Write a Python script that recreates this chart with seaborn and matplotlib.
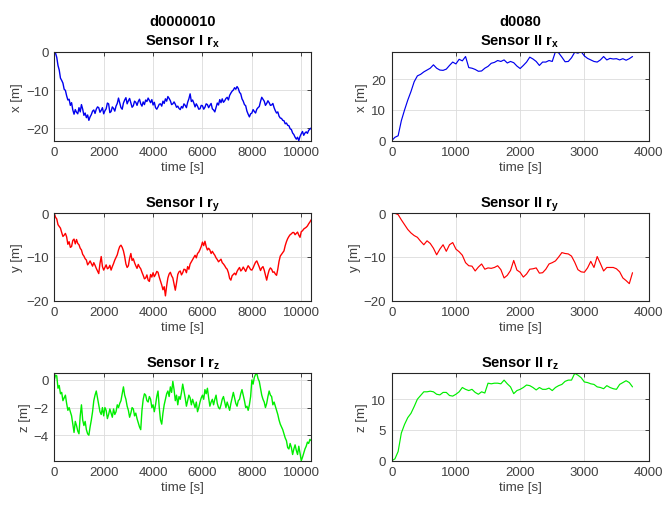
import numpy as np
import pandas as pd
import matplotlib
matplotlib.use("Agg")
import matplotlib.pyplot as plt
import seaborn as sns

# ---------------- data ----------------
title_I = "d0000010"
title_II = "d0080"

t_I = np.arange(0, 10450, 50)       # time [s], sensor I (0..10400)
t_II = np.arange(0, 3800, 50)       # time [s], sensor II (0..3750)

x_I = [0, -0.4, -1.5, -3.6, -4.8, -6.9, -7.5, -8.2, -9.8, -10.1,
       -11.5, -12.6, -12.4, -14.0, -13.3, -15.2, -16.3, -15.1, -15.8, -16.2,
       -14.6, -15.7, -13.8, -15.0, -16.6, -16.0, -17.2, -16.5, -17.9, -17.0,
       -16.4, -15.5, -15.2, -16.1, -15.0, -14.4, -14.6, -15.8, -15.3, -14.6,
       -16.2, -15.4, -14.9, -13.4, -13.6, -15.9, -15.6, -14.4, -14.8, -15.5,
       -14.2, -13.5, -12.1, -13.4, -14.6, -15.0, -13.4, -12.6, -12.0, -13.6,
       -12.8, -12.2, -13.3, -14.5, -14.1, -12.9, -13.2, -14.0, -13.0, -12.4,
       -13.6, -14.2, -13.1, -13.8, -12.6, -13.0, -12.1, -12.7, -13.3, -12.5,
       -13.9, -13.2, -14.6, -15.0, -14.4, -13.7, -13.6, -14.2, -12.9, -13.5,
       -12.3, -12.9, -11.7, -12.2, -12.8, -13.8, -13.6, -13.1, -13.7, -14.5,
       -14.2, -14.8, -15.1, -14.3, -14.7, -13.6, -14.0, -14.6, -13.2, -12.3,
       -11.0, -13.0, -12.6, -13.4, -14.4, -13.6, -14.2, -15.0, -14.9, -14.0,
       -14.1, -15.0, -14.5, -13.6, -13.8, -14.6, -14.0, -13.5, -14.9, -15.2,
       -15.7, -14.6, -13.4, -13.9, -12.5, -13.3, -12.3, -13.2, -12.8, -12.2,
       -11.9, -12.6, -11.4, -10.8, -10.3, -10.0, -9.4, -9.8, -9.1, -9.6,
       -10.6, -11.0, -12.3, -12.9, -13.8, -14.1, -15.5, -16.3, -17.0, -16.2,
       -16.0, -15.1, -15.6, -16.0, -15.0, -14.6, -14.3, -13.0, -11.9, -12.4,
       -12.9, -14.0, -13.5, -12.8, -13.3, -14.0, -13.9, -13.5, -14.6, -15.4,
       -16.0, -15.7, -16.8, -17.3, -17.4, -17.9, -18.0, -18.8, -18.6, -19.2,
       -19.3, -20.1, -20.3, -21.2, -21.6, -22.3, -22.8, -22.3, -23.2, -22.1,
       -21.4, -20.8, -21.8, -21.2, -20.9, -21.3, -20.5, -20.2, -19.9]

y_I = [0, -0.9, -1.3, -2.6, -3.0, -3.4, -4.4, -5.3, -5.0, -4.6,
       -5.4, -7.1, -6.5, -7.8, -7.6, -6.2, -5.9, -7.0, -6.0, -6.9,
       -7.2, -8.0, -8.4, -9.4, -9.8, -10.4, -10.7, -11.8, -11.4, -10.9,
       -11.5, -12.1, -11.3, -11.9, -12.6, -13.2, -13.8, -11.5, -9.9, -12.2,
       -13.0, -12.4, -11.8, -12.7, -12.5, -11.9, -13.0, -12.2, -11.5, -10.7,
       -10.1, -9.5, -8.4, -7.6, -7.3, -7.8, -8.6, -9.9, -11.6, -12.4,
       -12.0, -10.3, -9.2, -10.8, -10.4, -11.3, -12.0, -12.6, -11.7, -12.3,
       -12.7, -13.5, -14.2, -15.0, -14.8, -14.1, -15.3, -15.6, -14.0, -14.6,
       -13.6, -14.5, -14.0, -13.3, -13.5, -14.6, -15.5, -16.4, -17.5, -16.8,
       -18.9, -16.6, -14.8, -13.9, -13.5, -14.3, -14.8, -16.2, -17.6, -15.9,
       -14.0, -13.4, -13.2, -14.1, -13.6, -12.8, -12.9, -13.6, -12.2, -12.8,
       -11.6, -11.1, -10.6, -10.1, -9.6, -10.2, -9.2, -8.9, -8.3, -7.6,
       -6.6, -7.4, -6.4, -7.6, -8.4, -8.0, -8.4, -9.2, -8.7, -9.2,
       -9.6, -10.2, -10.6, -11.1, -10.8, -10.5, -11.3, -11.6, -12.0, -12.5,
       -12.8, -13.6, -14.9, -15.3, -14.3, -14.0, -13.7, -14.1, -13.3, -12.8,
       -12.4, -13.2, -12.9, -12.3, -12.8, -13.3, -12.6, -12.0, -12.4, -12.9,
       -13.0, -12.5, -11.8, -11.2, -10.9, -11.6, -12.3, -13.1, -12.5, -12.2,
       -13.0, -14.1, -15.3, -14.0, -13.0, -12.5, -12.8, -13.5, -13.4, -13.9,
       -14.2, -12.8, -11.0, -9.8, -9.4, -9.0, -8.6, -7.4, -6.5, -5.8,
       -5.3, -4.9, -4.7, -4.4, -4.4, -4.9, -4.6, -4.3, -5.0, -5.5,
       -4.2, -4.0, -3.6, -3.4, -3.2, -2.9, -2.4, -2.0, -1.5]

z_I = [0.0, 0.35, 0.3, -0.6, -0.4, -1.0, -0.9, -1.5, -1.3, -1.1,
       -1.7, -2.2, -2.0, -2.3, -2.6, -3.2, -3.8, -3.0, -3.3, -3.7,
       -3.9, -2.6, -1.8, -2.9, -3.3, -3.0, -3.6, -3.9, -4.0, -3.4,
       -2.9, -2.3, -1.5, -1.1, -0.8, -1.3, -1.8, -2.3, -2.5, -2.0,
       -2.6, -2.0, -2.2, -2.8, -2.5, -2.1, -2.4, -2.7, -2.1, -2.5,
       -2.3, -1.8, -2.0, -1.7, -1.5, -1.0, -0.5, -1.1, -1.4, -1.9,
       -2.2, -2.7, -2.4, -2.0, -2.1, -2.6, -2.4, -2.8, -3.1, -3.4,
       -3.6, -2.2, -1.4, -1.0, -1.1, -1.5, -1.6, -1.2, -1.4, -2.0,
       -1.8, -2.3, -1.8, -1.2, -0.8, -2.0, -2.9, -3.2, -2.4, -1.8,
       -1.4, -1.0, -0.8, -1.2, -0.5, -0.9, -0.1, -0.7, -1.5, -1.1,
       -1.8, -1.2, -1.4, -0.9, -0.3, -0.8, -1.3, -1.9, -1.5, -1.1,
       -1.3, -1.8, -1.4, -1.7, -2.0, -1.6, -2.3, -2.0, -1.6, -1.3,
       -1.1, -1.4, -0.7, -1.0, -0.6, -1.3, -1.9, -1.6, -1.4, -1.8,
       -1.4, -1.1, -1.7, -2.0, -2.1, -1.8, -1.4, -1.2, -1.6, -2.0,
       -1.6, -1.9, -2.2, -1.7, -1.3, -0.9, -1.3, -1.7, -1.9, -1.5,
       -1.4, -1.0, -0.7, -1.1, -1.5, -2.0, -1.9, -2.2, -1.8, -1.2,
       0.0, -0.3, 0.2, 0.4, 0.48, 0.1, -0.1, -0.6, -1.1, -1.4,
       -1.6, -2.0, -1.7, -1.2, -0.8, -1.1, -1.2, -1.8, -1.6, -1.9,
       -2.2, -2.5, -2.9, -3.2, -3.4, -3.6, -3.9, -4.2, -4.4, -4.9,
       -5.0, -4.6, -4.9, -5.4, -5.0, -4.7, -5.1, -5.4, -4.8, -5.3,
       -5.85, -5.6, -5.3, -5.0, -4.8, -4.5, -4.6, -4.3, -4.4]

x_II = [0.0, 1.1, 1.6, 6.5, 10.0, 13.2, 16.0, 19.2, 21.1, 21.6,
        22.4, 23.0, 23.6, 24.7, 23.6, 23.0, 22.9, 23.3, 24.5, 25.6,
        25.0, 26.5, 26.0, 27.4, 23.8, 23.6, 23.2, 22.6, 22.7, 23.6,
        24.2, 25.2, 25.5, 26.1, 25.8, 26.3, 25.3, 25.8, 25.4, 24.3,
        23.5, 24.5, 25.6, 27.2, 26.6, 25.8, 24.5, 25.6, 25.6, 26.1,
        25.8, 29.0, 28.6, 27.2, 25.7, 25.8, 27.0, 28.8, 28.5, 29.0,
        27.6, 26.8, 26.3, 25.8, 25.6, 26.3, 27.4, 26.3, 26.8, 26.6,
        26.7, 26.3, 26.7, 26.2, 26.7, 27.4]

y_II = [0.0, 0.0, -0.3, -1.5, -2.6, -3.7, -4.5, -5.1, -5.5, -6.4,
        -7.2, -6.3, -6.9, -8.0, -9.5, -8.2, -7.2, -8.7, -7.2, -6.7,
        -8.2, -8.8, -9.6, -11.3, -12.0, -12.1, -13.2, -12.3, -11.6, -12.8,
        -12.5, -12.6, -12.4, -12.0, -12.9, -14.8, -14.2, -13.1, -10.8, -13.0,
        -13.5, -14.6, -13.9, -12.8, -12.7, -12.5, -13.7, -13.6, -12.8, -11.6,
        -11.3, -10.9, -10.0, -9.0, -9.2, -9.3, -9.8, -11.2, -12.9, -13.4,
        -13.5, -12.5, -11.0, -12.4, -9.9, -11.5, -13.2, -12.4, -12.4, -12.4,
        -12.7, -13.4, -14.8, -15.4, -16.1, -13.6]

z_II = [0.0, 0.3, 1.5, 4.5, 5.9, 7.0, 7.7, 8.8, 10.0, 10.6,
        11.2, 11.2, 11.3, 11.2, 10.8, 10.7, 11.1, 11.1, 10.6, 10.5,
        10.8, 11.2, 11.9, 11.6, 11.4, 11.6, 11.1, 10.8, 11.2, 11.0,
        12.6, 12.5, 12.6, 12.6, 12.5, 13.1, 12.5, 12.0, 10.9, 11.4,
        11.6, 11.9, 12.3, 12.2, 11.9, 11.5, 11.9, 11.6, 11.6, 11.8,
        11.4, 11.9, 12.2, 12.4, 12.9, 13.1, 13.1, 14.2, 13.9, 13.5,
        12.8, 12.7, 12.5, 12.4, 12.0, 11.9, 11.7, 12.2, 11.9, 11.7,
        11.6, 12.4, 12.7, 13.0, 12.7, 12.0]

xlim_I = (0, 10400)
xlim_II = (0, 4000)
xticks_I = [0, 2000, 4000, 6000, 8000, 10000]
xticks_II = [0, 1000, 2000, 3000, 4000]

# ---------------- style ----------------
sns.set_style("white")
plt.rcParams['font.family'] = ['Liberation Sans', 'DejaVu Sans']
plt.rcParams['mathtext.fontset'] = 'custom'
plt.rcParams['mathtext.rm'] = 'Liberation Sans'
plt.rcParams['mathtext.bf'] = 'Liberation Sans:bold'
plt.rcParams['mathtext.it'] = 'Liberation Sans:italic'

TXT = '#262626'
TICKC = '#404040'

fig = plt.figure(figsize=(6.62, 5.06), dpi=100)

colx = [0.082, 0.5917]
w = 0.388
rows = [(0.720, 0.176), (0.4038, 0.1727), (0.0875, 0.1727)]

panels = [
    # (row, col, t, values, color, label, title, ylim, yticks)
    (0, 0, t_I, x_I, '#0000ee', 'x [m]', title_I + '\nSensor I r$_\\mathbf{x}$', (min(x_I), max(x_I)), [-20, -10, 0]),
    (0, 1, t_II, x_II, '#0000ee', 'x [m]', title_II + '\nSensor II r$_\\mathbf{x}$', (min(x_II), max(x_II)), [0, 10, 20]),
    (1, 0, t_I, y_I, '#ff0000', 'y [m]', 'Sensor I r$_\\mathbf{y}$', (-20, 0), [-20, -10, 0]),
    (1, 1, t_II, y_II, '#ff0000', 'y [m]', 'Sensor II r$_\\mathbf{y}$', (-20, 0), [-20, -10, 0]),
    (2, 0, t_I, z_I, '#00ee00', 'z [m]', 'Sensor I r$_\\mathbf{z}$', (min(z_I), max(z_I)), [-4, -2, 0]),
    (2, 1, t_II, z_II, '#00ee00', 'z [m]', 'Sensor II r$_\\mathbf{z}$', (min(z_II), max(z_II)), [0, 5, 10]),
]

for r, c, t, v, color, ylab, title, ylim, yticks in panels:
    b, h = rows[r]
    ax = fig.add_axes([colx[c], b, w, h])
    df = pd.DataFrame({'time': t, 'val': v})
    sns.lineplot(data=df, x='time', y='val', ax=ax, color=color,
                 linewidth=1.0 if c == 0 else 0.85, estimator=None, sort=False)
    ax.set_xlim(xlim_I if c == 0 else xlim_II)
    ax.set_xticks(xticks_I if c == 0 else xticks_II)
    ax.set_ylim(*ylim)
    ax.set_yticks(yticks)
    ax.grid(True, color='#dcdcdc', linewidth=0.6)
    ax.set_axisbelow(True)
    for s in ax.spines.values():
        s.set_color(TXT)
        s.set_linewidth(0.8)
    ax.tick_params(direction='in', length=3, width=0.6, colors=TXT,
                   labelcolor=TICKC, labelsize=9.5, top=True, right=True,
                   pad=4)
    ax.set_xlabel('time [s]', fontsize=9.5, color=TICKC, labelpad=2)
    ax.set_ylabel(ylab, fontsize=9.5, color=TICKC, labelpad=2)
    ax.set_title(title, fontsize=10.5, fontweight='bold', color='black',
                 pad=5, linespacing=1.35)

fig.savefig('out.png', dpi=100)
